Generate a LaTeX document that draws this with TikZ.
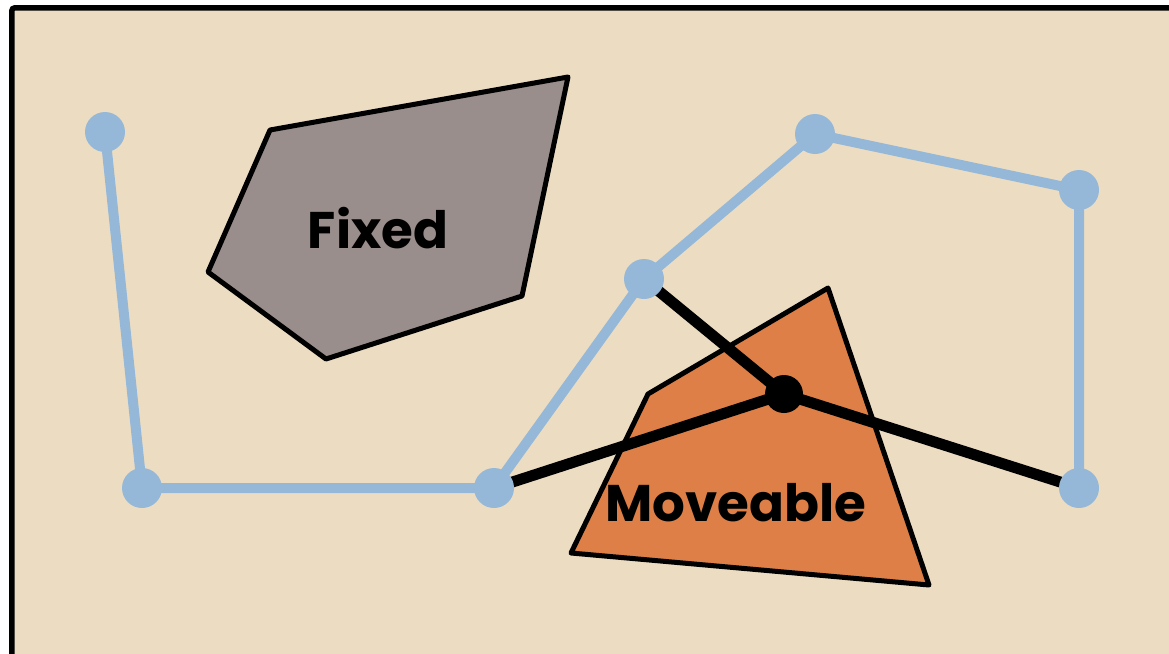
\documentclass[tikz,border=0pt]{standalone}
\usepackage{fontspec}
\setmainfont{Poppins}
\definecolor{bg}{RGB}{236,221,194}
\definecolor{lblue}{RGB}{149,184,216}
\definecolor{fixgray}{RGB}{153,142,139}
\definecolor{movorange}{RGB}{221,127,70}
\tikzset{
  joint/.style={circle,fill=lblue,minimum size=40pt,inner sep=0pt},
  hub/.style={circle,fill=black,minimum size=38pt,inner sep=0pt},
  link/.style={lblue,line width=10pt},
  bar/.style={black,line width=11pt},
  poly/.style={draw=black,line width=5pt,line join=round},
  lbl/.style={font=\fontsize{51.5}{60}\selectfont\bfseries}
}
\begin{document}
\begin{tikzpicture}[x=1pt,y=-1pt]
\useasboundingbox (0,0) rectangle (1169,653);
\begin{scope}
\clip (0,0) rectangle (1169,653);
\fill[white] (0,0) rectangle (1169,653);
\draw[fill=bg,line width=5.5pt,rounded corners=3pt] (11.8,7.8) rectangle (1220,720);
\end{scope}
% polygons
\draw[poly,fill=fixgray] (270,130) -- (568,77) -- (522,296) -- (326,359) -- (208,272) -- cycle;
\draw[poly,fill=movorange] (828,288) -- (929,585) -- (571,553) -- (648,394) -- cycle;
\node[lbl] (fixed) at (378,228) {Fixed};
% joints
\coordinate (A) at (105,132);
\coordinate (B) at (142,488);
\coordinate (C) at (494,488);
\coordinate (D) at (644,279);
\coordinate (E) at (815,134);
\coordinate (F) at (1079,190);
\coordinate (G) at (1079,488);
\coordinate (H) at (784,394);
\draw[link] (A) -- (B) -- (C) -- (D) -- (E) -- (F) -- (G);
\node[lbl] (move) at (736,503) {Moveable};
\draw[bar] (H) -- (C);
\draw[bar] (H) -- (D);
\draw[bar] (H) -- (G);
\foreach \p in {A,B,C,D,E,F,G} \node[joint] (n\p) at (\p) {};
\node[hub] (nH) at (H) {};
\end{tikzpicture}
\end{document}
